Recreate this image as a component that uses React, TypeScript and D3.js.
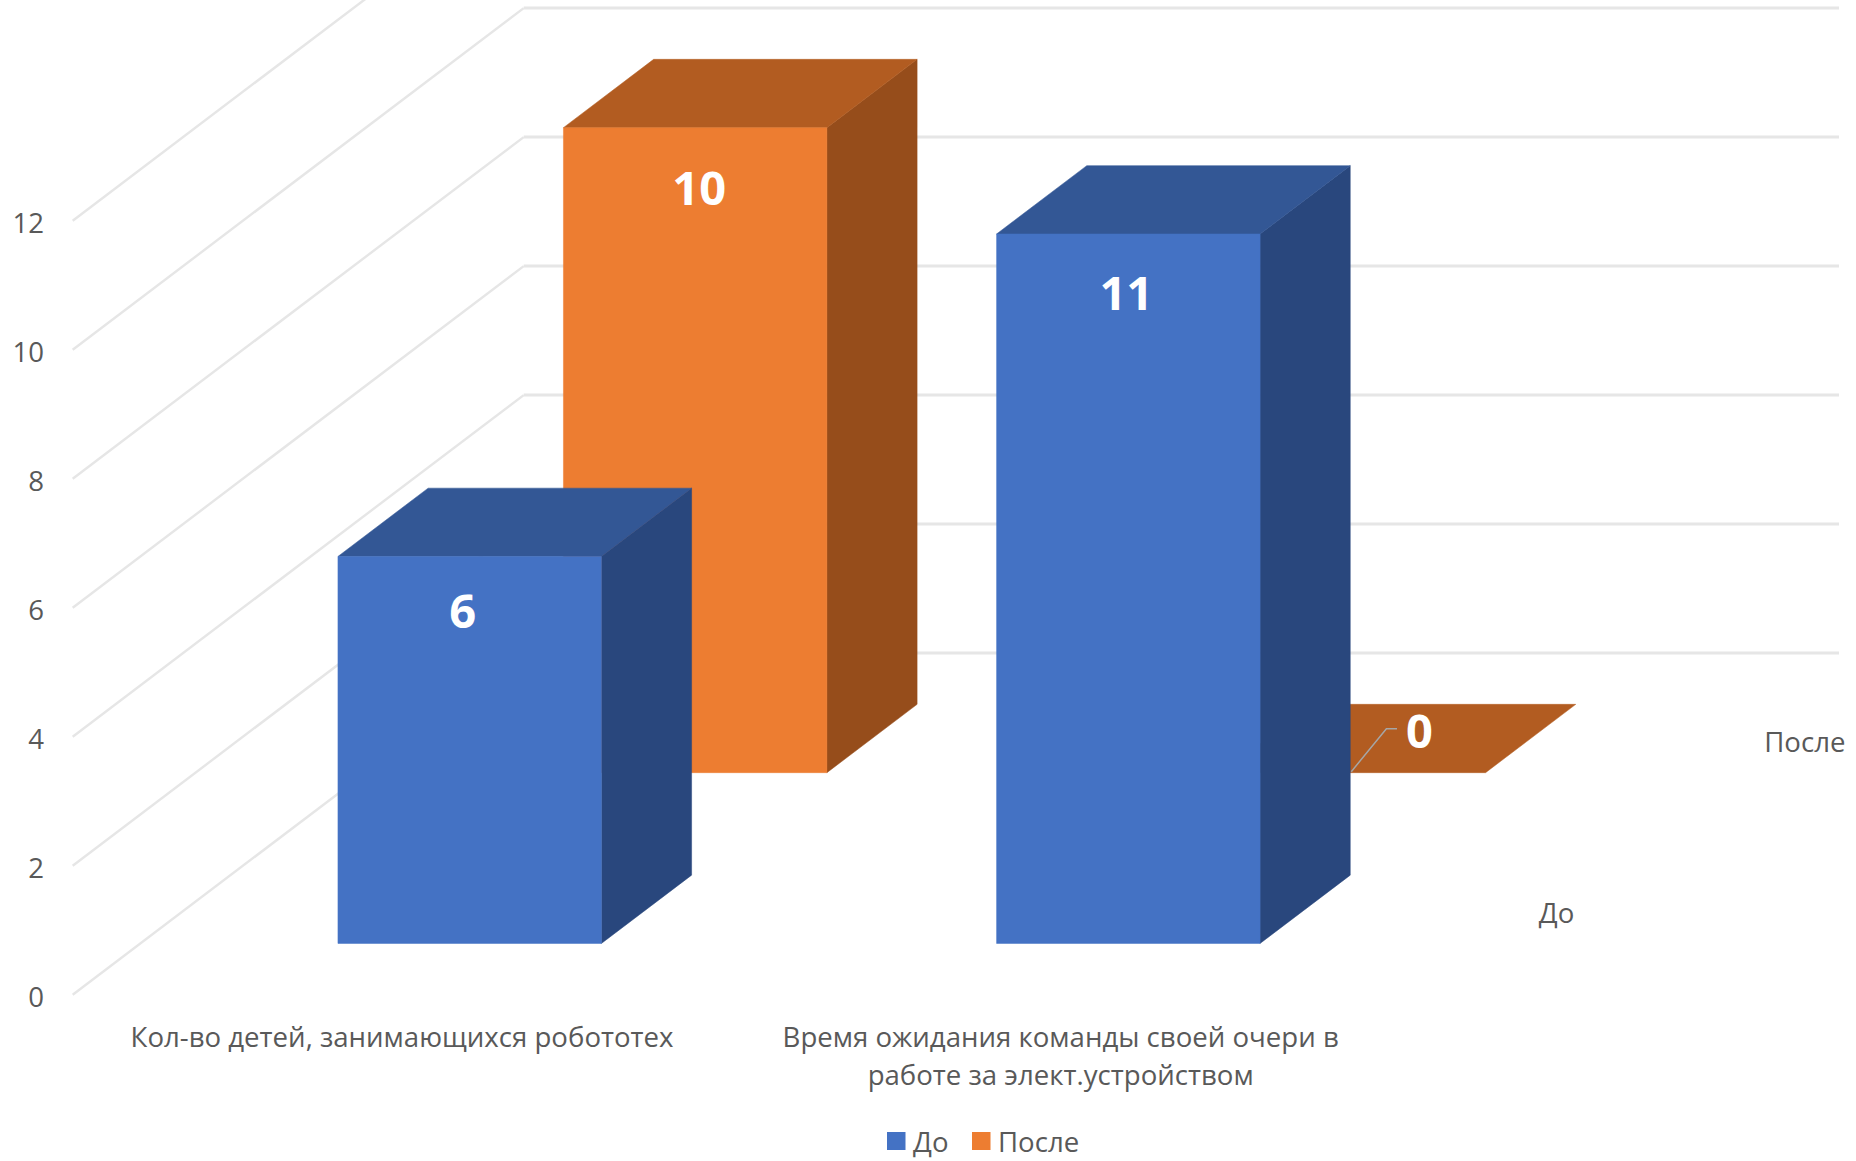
import React from "react";
import * as d3 from "d3";

const categories = [
  ["Кол-во детей, занимающихся робототех"],
  ["Время ожидания команды своей очери в", "работе за элект.устройством"],
];
const seriesNames = ["До", "После"];
const beforeValues = [6, 11];
const afterValues = [10, 0];
const valueTicks = [0, 2, 4, 6, 8, 10, 12];
const backGridValues = [0, 2, 4, 6, 8, 10];

const WIDTH = 1856;
const HEIGHT = 1161;
const FONT = "'Open Sans', sans-serif";
const TEXT = "#595959";
const GRID = "#e6e6e6";
const AXIS_SIZE = 27.6;
const LABEL_SIZE = 47;

// Oblique projection of the chart box: floor corner, depth vector and value height.
const ORIGIN = { x: 72.7, y: 994.7 };
const DEPTH = { x: 451, y: -341.6 };
const WALL_RIGHT = 1839;

const xBand = d3
  .scaleBand<number>()
  .domain(categories.map((_, i) => i))
  .range([ORIGIN.x, 1390])
  .paddingInner(0.6)
  .paddingOuter(0.3);
const zBand = d3
  .scaleBand<string>()
  .domain(seriesNames)
  .range([0, 1])
  .paddingInner(0.6)
  .paddingOuter(0.3);
const yHeight = d3.scaleLinear().domain([0, 12]).range([0, 774]);

type Pt = [number, number];
const project = (x: number, value: number, z: number): Pt => [
  x + z * DEPTH.x,
  ORIGIN.y - yHeight(value) + z * DEPTH.y,
];
const polygon = (pts: Pt[]) => (d3.line()(pts) as string) + "Z";

const palettes: Record<string, { front: string; top: string; side: string }> = {
  До: { front: "#4472c4", top: "#335795", side: "#29477d" },
  После: { front: "#ed7d31", top: "#b25c21", side: "#964d1b" },
};

// Data-label placement relative to each bar's front face: [dx from centre, dy from top].
const labelOffsets: Record<string, Pt[]> = {
  До: [
    [-7, 54],
    [-2, 58],
  ],
  После: [
    [4, 59],
    [0, 0],
  ],
};

function Face({ pts, color }: { pts: Pt[]; color: string }) {
  // A hairline of the face's own colour closes the anti-aliased seams between faces.
  return <path d={polygon(pts)} fill={color} stroke={color} strokeWidth={0.5} strokeLinejoin="round" />;
}

function Bar({ series, index, value }: { series: string; index: number; value: number }) {
  const x0 = xBand(index) as number;
  const x1 = x0 + xBand.bandwidth();
  const z0 = zBand(series) as number;
  const z1 = z0 + zBand.bandwidth();
  const colors = palettes[series];
  return (
    <g>
      {value > 0 && (
        <Face
          pts={[project(x1, 0, z0), project(x1, 0, z1), project(x1, value, z1), project(x1, value, z0)]}
          color={colors.side}
        />
      )}
      <Face
        pts={[project(x0, value, z0), project(x1, value, z0), project(x1, value, z1), project(x0, value, z1)]}
        color={colors.top}
      />
      {value > 0 && (
        <Face
          pts={[project(x0, 0, z0), project(x1, 0, z0), project(x1, value, z0), project(x0, value, z0)]}
          color={colors.front}
        />
      )}
    </g>
  );
}

function DataLabel({ series, index, value }: { series: string; index: number; value: number }) {
  const x0 = xBand(index) as number;
  const z0 = zBand(series) as number;
  const [fx, fy] = project(x0 + xBand.bandwidth() / 2, value, z0);
  const [dx, dy] = labelOffsets[series][index];
  return (
    <text
      x={fx + dx}
      y={fy + dy}
      textAnchor="middle"
      dominantBaseline="central"
      fontFamily={FONT}
      fontWeight={700}
      fontSize={LABEL_SIZE}
      fill="#ffffff"
    >
      {value}
    </text>
  );
}

export default function App() {
  const blueRight = (xBand(1) as number) + xBand.bandwidth();
  const blueBackZ = (zBand("До") as number) + zBand.bandwidth();
  const leaderStart: Pt = [
    project(blueRight, 0, blueBackZ)[0] + 1,
    project(blueRight, 0, zBand("После") as number)[1] - 1,
  ];

  return (
    <svg
      width={WIDTH}
      height={HEIGHT}
      viewBox={`0 0 ${WIDTH} ${HEIGHT}`}
      style={{ position: "absolute", left: 0, top: 0, background: "#fff" }}
    >
      {/* side wall grid */}
      {valueTicks.map((t) => {
        const a = project(ORIGIN.x, t, 0);
        const b = project(ORIGIN.x, t, 1);
        return <line key={t} x1={a[0]} y1={a[1]} x2={b[0]} y2={b[1]} stroke={GRID} strokeWidth={2.4} />;
      })}
      {/* back wall grid */}
      {backGridValues.map((t) => {
        const a = project(ORIGIN.x, t, 1);
        return <line key={t} x1={a[0]} y1={a[1]} x2={WALL_RIGHT} y2={a[1]} stroke={GRID} strokeWidth={3} />;
      })}

      {/* back row is painted first so the front row overlaps it */}
      {afterValues.map((v, i) => (
        <Bar key={i} series="После" index={i} value={v} />
      ))}
      {beforeValues.map((v, i) => (
        <Bar key={i} series="До" index={i} value={v} />
      ))}

      {beforeValues.map((v, i) => (
        <DataLabel key={i} series="До" index={i} value={v} />
      ))}
      <DataLabel series="После" index={0} value={afterValues[0]} />

      {/* the zero bar's label sits beside the bar on a leader line */}
      <polyline
        points={`${leaderStart[0]},${leaderStart[1]} 1386.4,728.8 1397,728.8`}
        fill="none"
        stroke="#a6a6a6"
        strokeWidth={1.5}
      />
      <text
        x={1419.5}
        y={730}
        textAnchor="middle"
        dominantBaseline="central"
        fontFamily={FONT}
        fontWeight={700}
        fontSize={LABEL_SIZE}
        fill="#ffffff"
      >
        {afterValues[1]}
      </text>

      {/* value axis */}
      {valueTicks.map((t) => (
        <text
          key={t}
          x={44}
          y={project(ORIGIN.x, t, 0)[1] + 0.8}
          textAnchor="end"
          dominantBaseline="central"
          fontFamily={FONT}
          fontSize={AXIS_SIZE}
          fill={TEXT}
        >
          {t}
        </text>
      ))}

      {/* category axis */}
      {categories.map((lines, i) =>
        lines.map((line, j) => (
          <text
            key={line}
            x={(xBand(i) as number) + xBand.bandwidth() / 2}
            y={1036 + j * 38}
            textAnchor="middle"
            dominantBaseline="central"
            fontFamily={FONT}
            fontSize={AXIS_SIZE}
            fill={TEXT}
          >
            {line}
          </text>
        ))
      )}

      {/* series axis along the floor's right edge */}
      {seriesNames.map((s) => {
        const z = (zBand(s) as number) + zBand.bandwidth() / 2;
        const [px, py] = project(xBand.range()[1], 0, z);
        return (
          <text
            key={s}
            x={px + 36}
            y={py + 2.5}
            dominantBaseline="central"
            fontFamily={FONT}
            fontSize={AXIS_SIZE}
            fill={TEXT}
          >
            {s}
          </text>
        );
      })}

      {/* legend */}
      {seriesNames.map((s, i) => {
        const swatchX = [887, 972][i];
        return (
          <g key={s}>
            <rect x={swatchX} y={1132} width={18.5} height={18} fill={palettes[s].front} />
            <text
              x={swatchX + 26}
              y={1141}
              dominantBaseline="central"
              fontFamily={FONT}
              fontSize={AXIS_SIZE}
              fill={TEXT}
            >
              {s}
            </text>
          </g>
        );
      })}
    </svg>
  );
}
